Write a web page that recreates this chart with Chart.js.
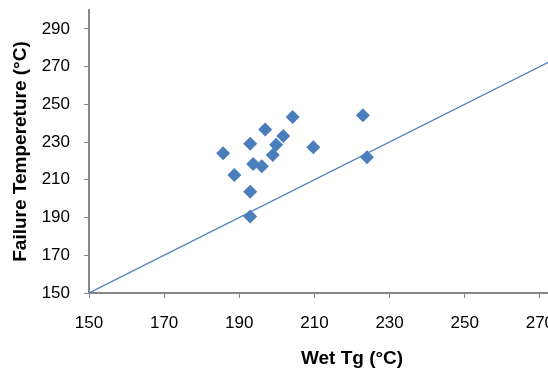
<!DOCTYPE html>
<html>
<head>
<meta charset="utf-8">
<script src="https://cdn.jsdelivr.net/npm/chart.js@4"></script>
<style>
  html, body { margin: 0; padding: 0; background: #fff; overflow: hidden; }
  #wrap { position: relative; width: 640px; height: 370px; }
</style>
</head>
<body>
<div id="wrap"><canvas id="chart"></canvas></div>
<script>
// wet Tg vs failure temperature
const wetTg = [185.7, 188.7, 192.9, 192.9, 192.9, 193.7, 196.0, 196.9, 198.9, 199.8, 201.7, 204.2, 209.7, 222.9, 224.0];
const failTemp = [224.1, 212.6, 229.1, 203.6, 190.5, 218.4, 217.2, 236.6, 223.2, 228.6, 233.2, 243.3, 227.3, 244.2, 222.0];
// y = x reference line
const lineX = [150, 290];
const lineY = [150, 290];
const xTicks = [150, 170, 190, 210, 230, 250, 270, 290];
const yTicks = [150, 170, 190, 210, 230, 250, 270, 290];

const blue = "#4a7ebb";
const axisGrey = "#868686";

const points = wetTg.map((x, i) => ({ x: x, y: failTemp[i] }));
const linePts = lineX.map((x, i) => ({ x: x, y: lineY[i] }));

const ctx = document.getElementById("chart").getContext("2d");
new Chart(ctx, {
  type: "scatter",
  data: {
    datasets: [{
      label: "Failure",
      data: points,
      pointStyle: "rectRot",
      pointRadius: 7,
      pointHoverRadius: 7,
      backgroundColor: blue,
      borderColor: blue,
      borderWidth: 0
    },
    {
      label: "y = x",
      data: linePts,
      showLine: true,
      pointRadius: 0,
      borderColor: blue,
      borderWidth: 1.2,
      fill: false
    }]
  },
  options: {
    responsive: true,
    maintainAspectRatio: false,
    animation: false,
    layout: { padding: { top: 10, right: 25, left: 0, bottom: 0 } },
    plugins: {
      legend: { display: false },
      tooltip: { enabled: false }
    },
    scales: {
      x: {
        type: "linear",
        min: 150,
        max: 290,
        afterBuildTicks: (scale) => { scale.ticks = xTicks.map(v => ({ value: v })); },
        afterFit: (scale) => {
          scale.height = 77;
          scale.paddingLeft = 0;
          scale.paddingRight = 0;
        },
        ticks: {
          padding: 15,
          color: "#000",
          font: { family: "'Liberation Sans', Arial, sans-serif", size: 17 }
        },
        grid: {
          drawOnChartArea: false,
          drawTicks: true,
          tickLength: 5,
          color: axisGrey,
          lineWidth: 1
        },
        border: { color: axisGrey, width: 2 },
        title: {
          display: true,
          text: "Wet Tg (°C)",
          color: "#000",
          padding: { top: 1, bottom: 0 },
          font: { family: "'Liberation Sans', Arial, sans-serif", size: 19, weight: "bold" }
        }
      },
      y: {
        type: "linear",
        min: 150,
        max: 300,
        afterBuildTicks: (scale) => { scale.ticks = yTicks.map(v => ({ value: v })); },
        afterFit: (scale) => {
          scale.width = 89;
          scale.paddingTop = 0;
          scale.paddingBottom = 0;
        },
        ticks: {
          padding: 14,
          color: "#000",
          font: { family: "'Liberation Sans', Arial, sans-serif", size: 17 }
        },
        grid: {
          drawOnChartArea: false,
          drawTicks: true,
          tickLength: 5,
          color: axisGrey,
          lineWidth: 1
        },
        border: { color: axisGrey, width: 2 },
        title: {
          display: true,
          text: "Failure Tempereture (°C)",
          color: "#000",
          padding: { top: 9, bottom: 0 },
          font: { family: "'Liberation Sans', Arial, sans-serif", size: 19, weight: "bold" }
        }
      }
    }
  }
});
</script>
</body>
</html>
